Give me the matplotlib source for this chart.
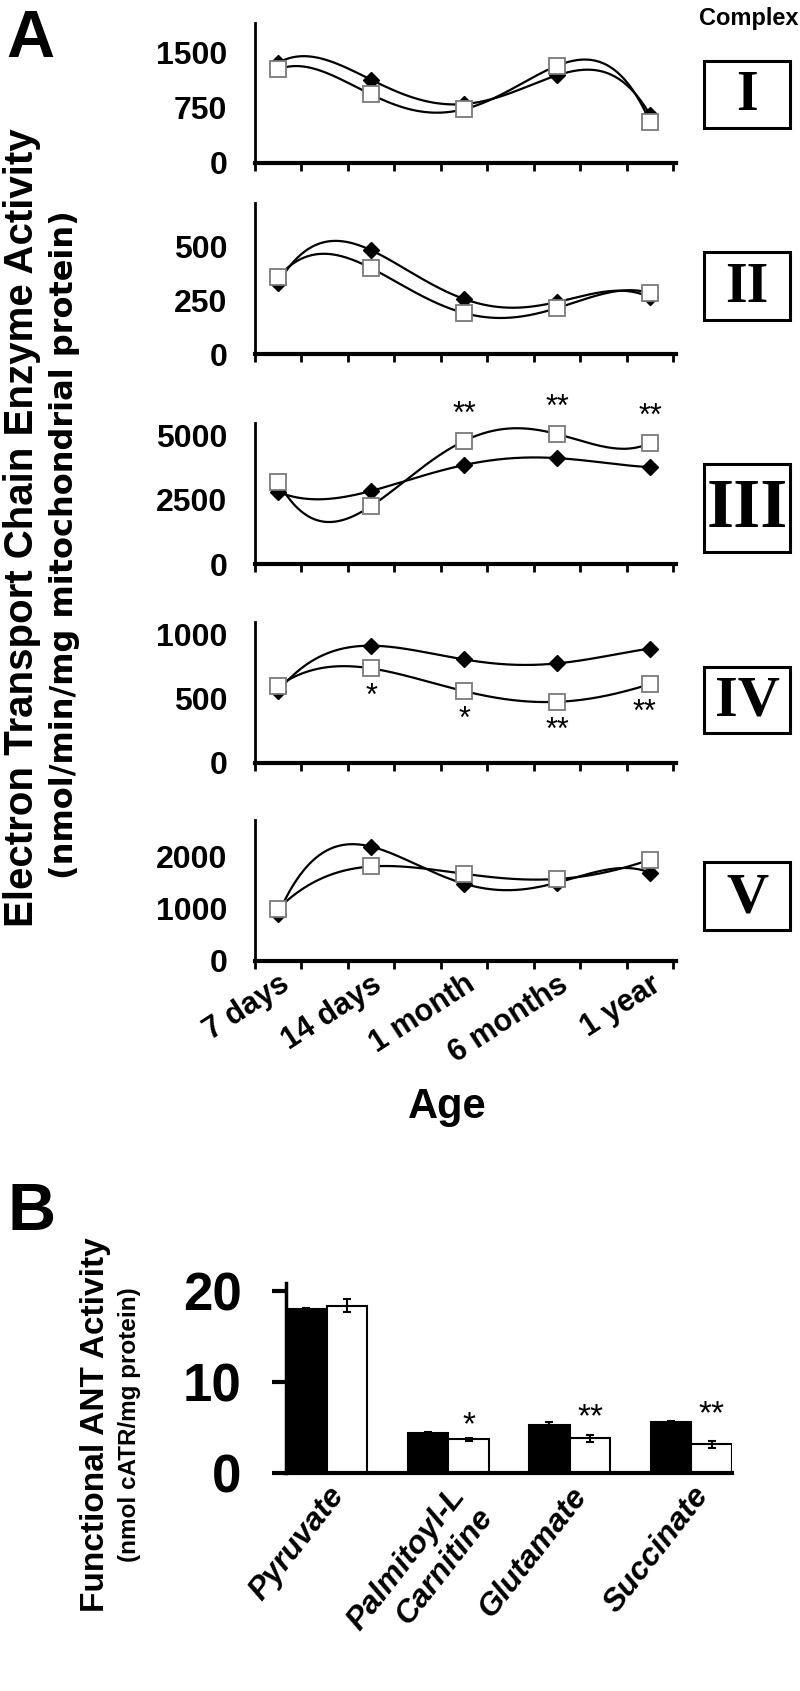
import numpy as np
import matplotlib
matplotlib.use('Agg')
import matplotlib.pyplot as plt
from matplotlib.patches import Rectangle

plt.rcParams['font.family'] = ['Liberation Sans', 'DejaVu Sans']

W, H = 800, 1691

# ---- panel A data (filled diamonds / open squares) ----
ages = ['7 days', '14 days', '1 month', '6 months', '1 year']
complexes = ['I', 'II', 'III', 'IV', 'V']

c1_fill = [1360, 1130, 800, 1190, 655]
c1_open = [1270, 930, 730, 1320, 560]
c2_fill = [329, 481, 255, 241, 262]
c2_open = [357, 398, 190, 213, 282]
c3_fill = [2810, 2850, 3860, 4130, 3780]
c3_open = [3200, 2260, 4800, 5070, 4720]
c4_fill = [561, 915, 808, 777, 892]
c4_open = [600, 738, 561, 477, 615]
c5_fill = [900, 2190, 1480, 1500, 1690]
c5_open = [1000, 1810, 1670, 1570, 1940]

c1_fill_err = [30, 30, 30, 30, 30]
c1_open_err = [20, 20, 20, 20, 20]
c2_fill_err = [10, 25, 25, 12, 20]
c2_open_err = [10, 10, 20, 10, 10]
c3_fill_err = [100, 200, 80, 80, 60]
c3_open_err = [80, 150, 150, 60, 60]
c4_fill_err = [15, 20, 20, 40, 25]
c4_open_err = [15, 15, 20, 15, 15]
c5_fill_err = [60, 40, 150, 60, 40]
c5_open_err = [40, 40, 60, 40, 40]

c3_stars = ['', '', '**', '**', '**']
c4_stars = ['', '*', '*', '**', '**']

ylims = [1900, 700, 5500, 1100, 2700]
yticks = [[0, 750, 1500], [0, 250, 500], [0, 2500, 5000], [0, 500, 1000], [0, 1000, 2000]]

# ---- panel B data ----
substrates = ['Pyruvate', 'Palmitoyl-L\nCarnitine', 'Glutamate', 'Succinate']
ant_black = [18.0, 4.4, 5.3, 5.6]
ant_black_err = [0.2, 0.1, 0.35, 0.1]
ant_white = [18.4, 3.7, 3.8, 3.15]
ant_white_err = [0.7, 0.15, 0.4, 0.4]
ant_stars = ['', '*', '**', '**']


def fx(px):
    return px / W


def fy(py):
    return 1 - py / H


fig = plt.figure(figsize=(8, 16.91), dpi=100)

# pixel boxes of the five panels (top, bottom)
panels = [(23, 163), (203, 354), (423, 564), (622, 763), (820, 961)]
boxes = [(61, 128), (252, 320), (464, 552), (667, 733), (862, 930)]
roman_size = [40, 40, 50, 42, 42]
ax_left, ax_right = 255, 676
box_l, box_r = 704, 790

fills = [c1_fill, c2_fill, c3_fill, c4_fill, c5_fill]
opens = [c1_open, c2_open, c3_open, c4_open, c5_open]
fill_errs = [c1_fill_err, c2_fill_err, c3_fill_err, c4_fill_err, c5_fill_err]
open_errs = [c1_open_err, c2_open_err, c3_open_err, c4_open_err, c5_open_err]

x = np.arange(len(ages))
xs = np.linspace(0, len(ages) - 1, 300)

for i in range(5):
    top, bot = panels[i]
    ax = fig.add_axes([fx(ax_left), fy(bot), fx(ax_right - ax_left), (bot - top) / H])
    for yv in (fills[i], opens[i]):
        coef = np.polyfit(x, yv, 4)
        ax.plot(xs, np.polyval(coef, xs), color='black', lw=1.6, zorder=2)
    ax.errorbar(x, fills[i], yerr=fill_errs[i], fmt='D', ms=8, color='black',
                ecolor='black', elinewidth=1.5, capsize=0, zorder=3)
    ax.errorbar(x, opens[i], yerr=open_errs[i], fmt='s', ms=11, mfc='white',
                mec='#7a7a7a', mew=1.3, ecolor='black', elinewidth=1.2,
                capsize=0, zorder=4)
    ax.set_xlim(-0.25, 4.28)
    ax.set_ylim(0, ylims[i])
    ax.set_yticks(yticks[i])
    ax.set_yticklabels([str(v) for v in yticks[i]], fontsize=23, fontweight='bold')
    ax.tick_params(axis='y', length=0, pad=20)
    ax.set_xticks(np.arange(-0.25, 4.3, 0.5))
    ax.set_xticklabels([])
    ax.tick_params(axis='x', which='major', length=6, width=2, direction='out')
    for s in ('top', 'right'):
        ax.spines[s].set_visible(False)
    ax.spines['left'].set_linewidth(2)
    ax.spines['bottom'].set_linewidth(3)

    if i == 2:
        for j, st in enumerate(c3_stars):
            if st:
                ax.annotate(st, (j, opens[i][j]), xytext=(0, 8), textcoords='offset points',
                            ha='center', va='bottom', fontsize=22)
    if i == 3:
        for j, st in enumerate(c4_stars):
            if st:
                ax.annotate(st, (j, opens[i][j]), xytext=(-4 if j == 4 else 0, -10),
                            textcoords='offset points', ha='center', va='top', fontsize=22)
    if i == 4:
        ax.set_xticks(x, minor=True)
        ax.set_xticklabels(ages, minor=True, rotation=33, ha='right',
                           rotation_mode='anchor', fontsize=22, fontweight='bold')
        ax.tick_params(axis='x', which='minor', length=0, pad=6)

    # numeral box
    bt, bb = boxes[i]
    fig.patches.append(Rectangle((fx(box_l), fy(bb)), fx(box_r - box_l), (bb - bt) / H,
                                 transform=fig.transFigure, fill=False, ec='black', lw=2.2))
    fig.text(fx((box_l + box_r) / 2), fy((bt + bb) / 2 + 2), complexes[i], ha='center',
             va='center', fontsize=roman_size[i], fontweight='bold', family='Liberation Serif')

fig.text(fx(6), fy(57), 'A', fontsize=48, fontweight='bold', va='baseline')
fig.text(fx(798), fy(25), 'Complex', fontsize=17, fontweight='bold', ha='right', va='baseline')
fig.text(fx(33), fy(528), 'Electron Transport Chain Enzyme Activity', rotation=90,
         rotation_mode='anchor', ha='center', va='baseline', fontsize=29, fontweight='bold')
fig.text(fx(73), fy(545), '(nmol/min/mg mitochondrial protein)', rotation=90,
         rotation_mode='anchor', ha='center', va='baseline', fontsize=23, fontweight='bold',
         family='DejaVu Sans')
fig.text(fx(447), fy(1118), 'Age', ha='center', va='baseline', fontsize=30, fontweight='bold')

# ---- panel B ----
bx = np.arange(len(substrates))
axb = fig.add_axes([fx(286), fy(1473), fx(732 - 286), (1473 - 1283) / H])
bw = 0.335
axb.bar(bx - bw / 2, ant_black, bw, color='black', edgecolor='black', lw=1.5,
        yerr=ant_black_err, capsize=3, error_kw=dict(elinewidth=1.5, capthick=1.5))
axb.bar(bx + bw / 2, ant_white, bw, color='white', edgecolor='black', lw=1.5,
        yerr=ant_white_err, capsize=3, error_kw=dict(elinewidth=1.5, capthick=1.5))
for j, st in enumerate(ant_stars):
    if st:
        axb.annotate(st, (bx[j] + bw / 2, ant_black[j]), xytext=(0, -6), textcoords='offset points',
                     ha='center', va='bottom', fontsize=24)
axb.set_xlim(-bw, len(substrates) - 1 + bw)
axb.set_ylim(0, 20.9)
axb.set_yticks([0, 10, 20])
axb.set_yticklabels(['0', '10', '20'], fontsize=38, fontweight='bold')
axb.tick_params(axis='y', length=10, width=3, pad=22)
axb.set_xticks(bx)
axb.set_xticklabels(substrates, rotation=52, ha='right', rotation_mode='anchor',
                    fontsize=23, fontweight='bold', style='italic', multialignment='right')
axb.tick_params(axis='x', length=0, pad=6)
for s in ('top', 'right'):
    axb.spines[s].set_visible(False)
axb.spines['left'].set_linewidth(2.5)
axb.spines['bottom'].set_linewidth(3)

fig.text(fx(8), fy(1230), 'B', fontsize=48, fontweight='bold', va='baseline')
fig.text(fx(104), fy(1425), 'Functional ANT Activity', rotation=90, rotation_mode='anchor',
         ha='center', va='baseline', fontsize=24, fontweight='bold')
fig.text(fx(136), fy(1425), '(nmol cATR/mg protein)', rotation=90, rotation_mode='anchor',
         ha='center', va='baseline', fontsize=17.5, fontweight='bold')

fig.savefig('out.png', dpi=100)
